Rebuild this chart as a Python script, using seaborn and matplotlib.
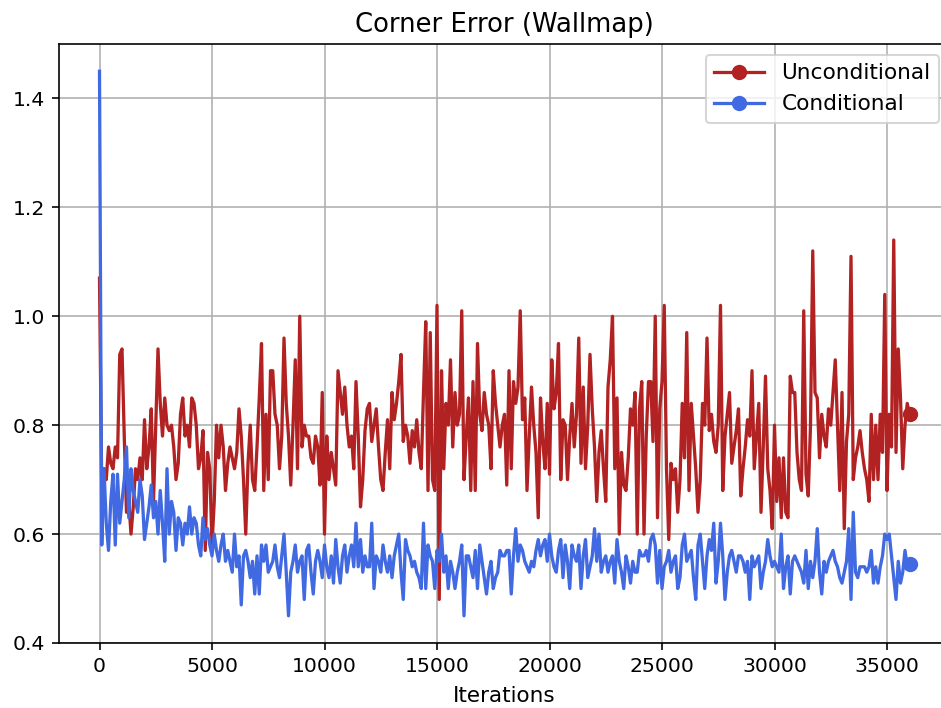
import numpy as np
import pandas as pd
import matplotlib
matplotlib.use("Agg")
import matplotlib.pyplot as plt
from matplotlib.lines import Line2D
import seaborn as sns

# Evaluation every 100 iterations
iterations = np.arange(0, 36001, 100)

unconditional = [
    1.07, 0.68, 0.72, 0.70, 0.76, 0.73, 0.72, 0.76, 0.74, 0.93,
    0.94, 0.78, 0.64, 0.66, 0.60, 0.65, 0.72, 0.70, 0.74, 0.70,
    0.81, 0.72, 0.76, 0.83, 0.66, 0.80, 0.94, 0.84, 0.78, 0.85,
    0.80, 0.79, 0.80, 0.76, 0.70, 0.73, 0.82, 0.85, 0.78, 0.80,
    0.76, 0.85, 0.84, 0.80, 0.72, 0.74, 0.79, 0.57, 0.75, 0.72,
    0.58, 0.66, 0.80, 0.74, 0.80, 0.76, 0.68, 0.73, 0.76, 0.74,
    0.72, 0.75, 0.83, 0.78, 0.70, 0.60, 0.73, 0.80, 0.70, 0.68,
    0.76, 0.85, 0.95, 0.68, 0.82, 0.70, 0.90, 0.90, 0.82, 0.80,
    0.72, 0.78, 0.96, 0.84, 0.78, 0.69, 0.80, 0.92, 0.72, 1.00,
    0.76, 0.80, 0.78, 0.78, 0.74, 0.73, 0.78, 0.76, 0.69, 0.86,
    0.60, 0.78, 0.70, 0.75, 0.72, 0.69, 0.90, 0.86, 0.82, 0.87,
    0.80, 0.76, 0.78, 0.72, 0.88, 0.78, 0.65, 0.70, 0.79, 0.83,
    0.84, 0.77, 0.80, 0.83, 0.76, 0.70, 0.68, 0.75, 0.81, 0.72,
    0.86, 0.81, 0.84, 0.88, 0.93, 0.77, 0.80, 0.78, 0.73, 0.79,
    0.76, 0.81, 0.75, 0.72, 0.86, 0.99, 0.68, 0.97, 0.70, 0.68,
    1.02, 0.48, 0.90, 0.72, 0.84, 0.80, 0.92, 0.76, 0.86, 0.80,
    0.82, 1.01, 0.70, 0.78, 0.85, 0.68, 0.88, 0.68, 0.95, 0.82,
    0.79, 0.86, 0.82, 0.80, 0.72, 0.90, 0.84, 0.80, 0.76, 0.80,
    0.82, 0.69, 0.90, 0.72, 0.88, 0.84, 0.87, 1.01, 0.81, 0.85,
    0.68, 0.78, 0.87, 0.80, 0.75, 0.63, 0.85, 0.77, 0.72, 0.84,
    0.71, 0.92, 0.83, 0.86, 0.95, 0.70, 0.81, 0.80, 0.70, 0.78,
    0.84, 0.76, 0.82, 0.96, 0.73, 0.87, 0.72, 0.80, 0.93, 0.83,
    0.76, 0.66, 0.75, 0.79, 0.72, 0.66, 0.87, 0.92, 1.00, 0.72,
    0.85, 0.60, 0.75, 0.69, 0.68, 0.74, 0.83, 0.80, 0.86, 0.60,
    0.83, 0.88, 0.60, 0.78, 0.88, 0.88, 0.77, 1.00, 0.63, 0.83,
    0.88, 1.02, 0.72, 0.59, 0.73, 0.70, 0.72, 0.64, 0.70, 0.84,
    0.74, 0.97, 0.68, 0.84, 0.78, 0.72, 0.64, 0.70, 0.84, 0.80,
    0.96, 0.79, 0.82, 0.77, 0.75, 0.80, 1.02, 0.68, 0.78, 0.82,
    0.86, 0.73, 0.76, 0.79, 0.83, 0.67, 0.72, 0.76, 0.81, 0.78,
    0.90, 0.72, 0.78, 0.84, 0.64, 0.76, 0.89, 0.72, 0.68, 0.61,
    0.80, 0.66, 0.74, 0.63, 0.74, 0.64, 0.63, 0.89, 0.86, 0.86,
    0.75, 0.70, 0.68, 1.01, 0.71, 0.67, 0.80, 1.12, 0.86, 0.85,
    0.74, 0.82, 0.78, 0.76, 0.83, 0.80, 0.86, 0.92, 0.80, 0.68,
    0.86, 0.61, 0.77, 0.82, 1.11, 0.70, 0.74, 0.76, 0.79, 0.75,
    0.72, 0.70, 0.66, 0.82, 0.70, 0.80, 0.70, 0.82, 0.75, 1.04,
    0.68, 0.82, 0.76, 1.14, 0.75, 0.94, 0.85, 0.72, 0.80, 0.84,
    0.82,
]

conditional = [
    1.45, 0.58, 0.72, 0.62, 0.57, 0.66, 0.71, 0.58, 0.71, 0.62,
    0.66, 0.70, 0.76, 0.63, 0.72, 0.68, 0.66, 0.64, 0.70, 0.67,
    0.59, 0.62, 0.65, 0.69, 0.63, 0.66, 0.60, 0.68, 0.62, 0.55,
    0.72, 0.60, 0.66, 0.64, 0.57, 0.63, 0.62, 0.58, 0.62, 0.60,
    0.65, 0.60, 0.63, 0.62, 0.58, 0.56, 0.63, 0.59, 0.61, 0.58,
    0.56, 0.60, 0.57, 0.55, 0.58, 0.60, 0.55, 0.57, 0.55, 0.53,
    0.60, 0.54, 0.56, 0.47, 0.56, 0.57, 0.55, 0.52, 0.55, 0.49,
    0.56, 0.49, 0.58, 0.55, 0.58, 0.53, 0.54, 0.55, 0.58, 0.54,
    0.52, 0.56, 0.60, 0.53, 0.45, 0.53, 0.55, 0.58, 0.53, 0.55,
    0.56, 0.48, 0.57, 0.58, 0.53, 0.49, 0.55, 0.57, 0.55, 0.52,
    0.58, 0.54, 0.52, 0.56, 0.51, 0.59, 0.54, 0.51, 0.56, 0.58,
    0.53, 0.56, 0.58, 0.54, 0.62, 0.54, 0.59, 0.53, 0.56, 0.54,
    0.54, 0.62, 0.50, 0.56, 0.55, 0.53, 0.58, 0.55, 0.53, 0.56,
    0.52, 0.56, 0.58, 0.60, 0.53, 0.48, 0.59, 0.57, 0.56, 0.54,
    0.55, 0.53, 0.52, 0.50, 0.62, 0.50, 0.58, 0.56, 0.55, 0.50,
    0.57, 0.55, 0.60, 0.53, 0.56, 0.50, 0.55, 0.53, 0.50, 0.53,
    0.55, 0.58, 0.45, 0.56, 0.56, 0.54, 0.52, 0.57, 0.50, 0.58,
    0.55, 0.52, 0.49, 0.53, 0.55, 0.50, 0.52, 0.53, 0.57, 0.56,
    0.56, 0.57, 0.57, 0.49, 0.56, 0.61, 0.55, 0.58, 0.57, 0.55,
    0.54, 0.53, 0.55, 0.54, 0.57, 0.59, 0.56, 0.58, 0.59, 0.55,
    0.60, 0.56, 0.54, 0.53, 0.57, 0.59, 0.52, 0.58, 0.55, 0.50,
    0.58, 0.56, 0.55, 0.58, 0.50, 0.56, 0.59, 0.52, 0.54, 0.56,
    0.61, 0.55, 0.60, 0.53, 0.55, 0.56, 0.53, 0.55, 0.56, 0.51,
    0.59, 0.55, 0.53, 0.50, 0.56, 0.54, 0.51, 0.55, 0.53, 0.53,
    0.57, 0.56, 0.56, 0.57, 0.55, 0.59, 0.60, 0.58, 0.51, 0.57,
    0.50, 0.54, 0.55, 0.57, 0.53, 0.55, 0.56, 0.50, 0.52, 0.58,
    0.60, 0.55, 0.56, 0.57, 0.52, 0.48, 0.58, 0.60, 0.55, 0.50,
    0.56, 0.59, 0.57, 0.62, 0.51, 0.55, 0.62, 0.56, 0.48, 0.53,
    0.56, 0.57, 0.55, 0.53, 0.56, 0.56, 0.55, 0.53, 0.55, 0.48,
    0.56, 0.54, 0.55, 0.56, 0.50, 0.53, 0.55, 0.59, 0.56, 0.54,
    0.55, 0.54, 0.53, 0.60, 0.50, 0.54, 0.56, 0.49, 0.55, 0.56,
    0.55, 0.54, 0.53, 0.51, 0.57, 0.50, 0.55, 0.52, 0.55, 0.61,
    0.53, 0.49, 0.55, 0.53, 0.55, 0.56, 0.57, 0.55, 0.54, 0.52,
    0.51, 0.53, 0.55, 0.61, 0.48, 0.64, 0.53, 0.52, 0.54, 0.54,
    0.54, 0.53, 0.54, 0.57, 0.51, 0.54, 0.51, 0.54, 0.56, 0.60,
    0.59, 0.60, 0.56, 0.52, 0.48, 0.55, 0.51, 0.53, 0.57, 0.54,
    0.545,
]

series_names = ["Unconditional", "Conditional"]
series_colors = ["firebrick", "royalblue"]
y_ticks = [0.4, 0.6, 0.8, 1.0, 1.2, 1.4]
x_ticks = [0, 5000, 10000, 15000, 20000, 25000, 30000, 35000]

df = pd.DataFrame({
    "Iterations": iterations,
    "Unconditional": unconditional,
    "Conditional": conditional,
})

DPI = 147
fig = plt.figure(figsize=(941 / DPI, 708 / DPI), dpi=DPI)
ax = fig.add_axes([59 / 941, 65 / 708, 891 / 941, 599 / 708])

for name, color in zip(series_names, series_colors):
    sns.lineplot(
        data=df, x="Iterations", y=name, ax=ax, color=color,
        linewidth=1.6, marker="o", markevery=[-1], markersize=6.5,
        markeredgecolor=color, markeredgewidth=1.0, legend=False,
    )

ax.grid(True, color="#b0b0b0", linewidth=0.8)
ax.set_axisbelow(True)
ax.set_xlim(-1800, 37800)
ax.set_ylim(0.4, 1.5)
ax.set_yticks(y_ticks)
ax.set_xticks(x_ticks)
ax.spines["right"].set_visible(False)
ax.set_xlabel("Iterations", fontsize=10.5, labelpad=5)
ax.set_ylabel("")
ax.set_title("Corner Error (Wallmap)", fontsize=12.7)

handles = [
    Line2D([0], [0], color=c, marker="o", linewidth=1.6, markersize=6.5)
    for c in series_colors
]
ax.legend(handles, series_names, loc="upper right", fontsize=10.6,
          handlelength=2.3, borderaxespad=0.5)

fig.savefig("out.png", dpi=DPI)
